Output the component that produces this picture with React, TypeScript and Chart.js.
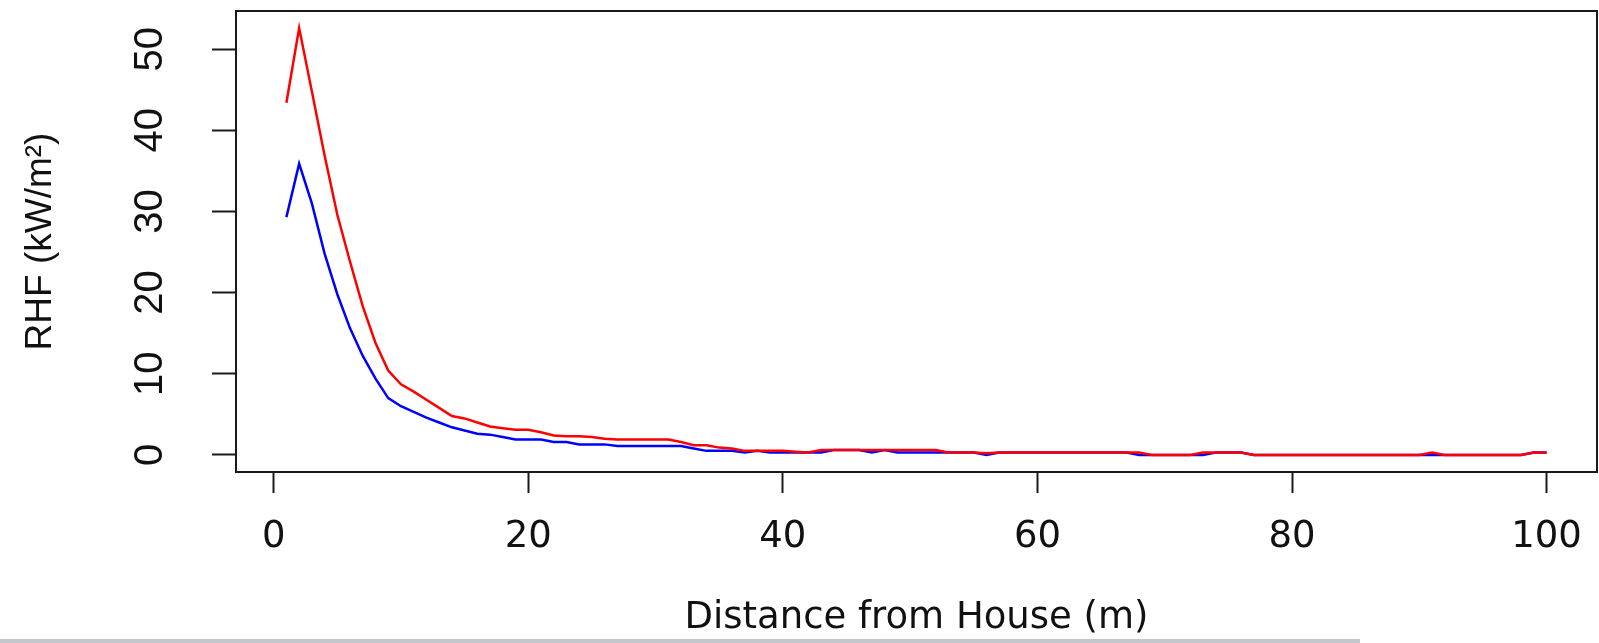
import React, { useEffect, useRef } from "react";
import { Chart, registerables } from "chart.js";

Chart.register(...registerables);

// Distance from house (m)
const distance = [
  1, 2, 3, 4, 5, 6, 7, 8, 9, 10,
  11, 12, 13, 14, 15, 16, 17, 18, 19, 20,
  21, 22, 23, 24, 25, 26, 27, 28, 29, 30,
  31, 32, 33, 34, 35, 36, 37, 38, 39, 40,
  41, 42, 43, 44, 45, 46, 47, 48, 49, 50,
  51, 52, 53, 54, 55, 56, 57, 58, 59, 60,
  61, 62, 63, 64, 65, 66, 67, 68, 69, 70,
  71, 72, 73, 74, 75, 76, 77, 78, 79, 80,
  81, 82, 83, 84, 85, 86, 87, 88, 89, 90,
  91, 92, 93, 94, 95, 96, 97, 98, 99, 100,
];

// RHF (kW/m²), red curve
const rhfRed = [
  43.4, 52.6, 44.8, 36.9, 29.6, 23.8, 18.3, 13.8, 10.4, 8.7,
  7.8, 6.8, 5.8, 4.8, 4.5, 4.0, 3.5, 3.3, 3.1, 3.1,
  2.8, 2.4, 2.3, 2.3, 2.2, 2.0, 1.9, 1.9, 1.9, 1.9,
  1.9, 1.6, 1.2, 1.2, 0.9, 0.8, 0.5, 0.5, 0.5, 0.5,
  0.4, 0.3, 0.6, 0.6, 0.6, 0.6, 0.6, 0.6, 0.6, 0.6,
  0.6, 0.6, 0.3, 0.3, 0.3, 0.2, 0.3, 0.3, 0.3, 0.3,
  0.3, 0.3, 0.3, 0.3, 0.3, 0.3, 0.3, 0.3, 0.0, 0.0,
  0.0, 0.0, 0.3, 0.3, 0.3, 0.3, 0.0, 0.0, 0.0, 0.0,
  0.0, 0.0, 0.0, 0.0, 0.0, 0.0, 0.0, 0.0, 0.0, 0.0,
  0.3, 0.0, 0.0, 0.0, 0.0, 0.0, 0.0, 0.0, 0.3, 0.3,
];

// RHF (kW/m²), blue curve
const rhfBlue = [
  29.3, 35.9, 31.0, 24.8, 19.8, 15.6, 12.2, 9.4, 7.0, 6.0,
  5.3, 4.6, 4.0, 3.4, 3.0, 2.6, 2.5, 2.2, 1.9, 1.9,
  1.9, 1.6, 1.6, 1.3, 1.3, 1.3, 1.1, 1.1, 1.1, 1.1,
  1.1, 1.1, 0.8, 0.5, 0.5, 0.5, 0.3, 0.5, 0.3, 0.3,
  0.3, 0.3, 0.3, 0.6, 0.6, 0.6, 0.3, 0.6, 0.3, 0.3,
  0.3, 0.3, 0.3, 0.3, 0.3, 0.0, 0.3, 0.3, 0.3, 0.3,
  0.3, 0.3, 0.3, 0.3, 0.3, 0.3, 0.3, 0.0, 0.0, 0.0,
  0.0, 0.0, 0.0, 0.3, 0.3, 0.3, 0.0, 0.0, 0.0, 0.0,
  0.0, 0.0, 0.0, 0.0, 0.0, 0.0, 0.0, 0.0, 0.0, 0.0,
  0.0, 0.0, 0.0, 0.0, 0.0, 0.0, 0.0, 0.0, 0.3, 0.3,
];

const xTickValues = [0, 20, 40, 60, 80, 100];
const yTickValues = [0, 10, 20, 30, 40, 50];
const xLimits = [-2.96, 103.96];
const yLimits = [-2.104, 54.704];

const xTitle = "Distance from House (m)";
const yTitle = "RHF (kW/m\u00B2)";

const boxPlugin = {
  id: "plotBox",
  afterDraw(chart: any) {
    const { ctx, chartArea: a } = chart;
    ctx.save();
    ctx.strokeStyle = "#1a1a1a";
    ctx.lineWidth = 2;
    ctx.strokeRect(a.left, a.top, a.right - a.left, a.bottom - a.top);
    ctx.restore();
  },
};

export default function App() {
  const canvasRef = useRef<HTMLCanvasElement | null>(null);

  useEffect(() => {
    const canvas = canvasRef.current;
    if (!canvas) return;
    const toPoints = (ys: number[]) => distance.map((x, i) => ({ x, y: ys[i] }));
    const chart = new Chart(canvas, {
      type: "line",
      data: {
        datasets: [
          {
            label: "Red",
            data: toPoints(rhfRed),
            borderColor: "#ff0000",
            backgroundColor: "#ff0000",
            borderWidth: 2.5,
            pointRadius: 0,
            tension: 0,
            fill: false,
          },
          {
            label: "Blue",
            data: toPoints(rhfBlue),
            borderColor: "#0000ff",
            backgroundColor: "#0000ff",
            borderWidth: 2.5,
            pointRadius: 0,
            tension: 0,
            fill: false,
          },
        ],
      },
      options: {
        animation: false,
        responsive: false,
        devicePixelRatio: 1,
        layout: { padding: { top: 11, right: 2, left: 0, bottom: 0 } },
        plugins: {
          legend: { display: false },
          tooltip: { enabled: false },
          title: { display: false },
        },
        scales: {
          x: {
            type: "linear",
            min: xLimits[0],
            max: xLimits[1],
            afterBuildTicks: (scale: any) => {
              scale.ticks = xTickValues.map((v) => ({ value: v }));
            },
            afterFit: (scale: any) => {
              scale.height = 171;
              scale.paddingLeft = 0;
              scale.paddingRight = 0;
            },
            border: { display: false },
            grid: {
              display: true,
              drawOnChartArea: false,
              drawTicks: true,
              tickLength: 21,
              tickColor: "#1a1a1a",
              tickWidth: 2,
            },
            ticks: {
              color: "#111",
              padding: 22,
              maxRotation: 0,
              minRotation: 0,
              font: { family: '"DejaVu Sans", sans-serif', size: 37 },
              callback: (v: any) => String(v),
            },
            title: {
              display: true,
              text: xTitle,
              color: "#111",
              font: { family: '"DejaVu Sans", sans-serif', size: 37 },
              padding: { top: 0, bottom: 2 },
            },
          },
          y: {
            type: "linear",
            min: yLimits[0],
            max: yLimits[1],
            afterBuildTicks: (scale: any) => {
              scale.ticks = yTickValues.map((v) => ({ value: v }));
            },
            afterFit: (scale: any) => {
              scale.width = 236;
              scale.paddingTop = 0;
              scale.paddingBottom = 0;
            },
            border: { display: false },
            grid: {
              display: true,
              drawOnChartArea: false,
              drawTicks: true,
              tickLength: 24,
              tickColor: "#1a1a1a",
              tickWidth: 2,
            },
            ticks: {
              color: "#111",
              padding: 39,
              minRotation: 90,
              maxRotation: 90,
              crossAlign: "center",
              font: {
                family: '"Liberation Sans Narrow", "Arial Narrow", "Liberation Sans", sans-serif',
                size: 40,
              },
              callback: (v: any) => String(v),
            },
            title: {
              display: true,
              text: yTitle,
              color: "#111",
              font: { family: '"Liberation Sans", Arial, sans-serif', size: 37 },
              padding: { top: 19, bottom: 0 },
            },
          },
        },
      },
      plugins: [boxPlugin],
    });
    return () => chart.destroy();
  }, []);

  return (
    <div
      style={{
        position: "fixed",
        left: 0,
        top: 0,
        width: 1599,
        height: 643,
        background: "#ffffff",
        overflow: "hidden",
      }}
    >
      <canvas ref={canvasRef} width={1599} height={643} style={{ display: "block" }} />
      <div
        style={{
          position: "absolute",
          left: 0,
          top: 639,
          width: 1360,
          height: 4,
          background: "#c4c8cc",
        }}
      />
    </div>
  );
}
